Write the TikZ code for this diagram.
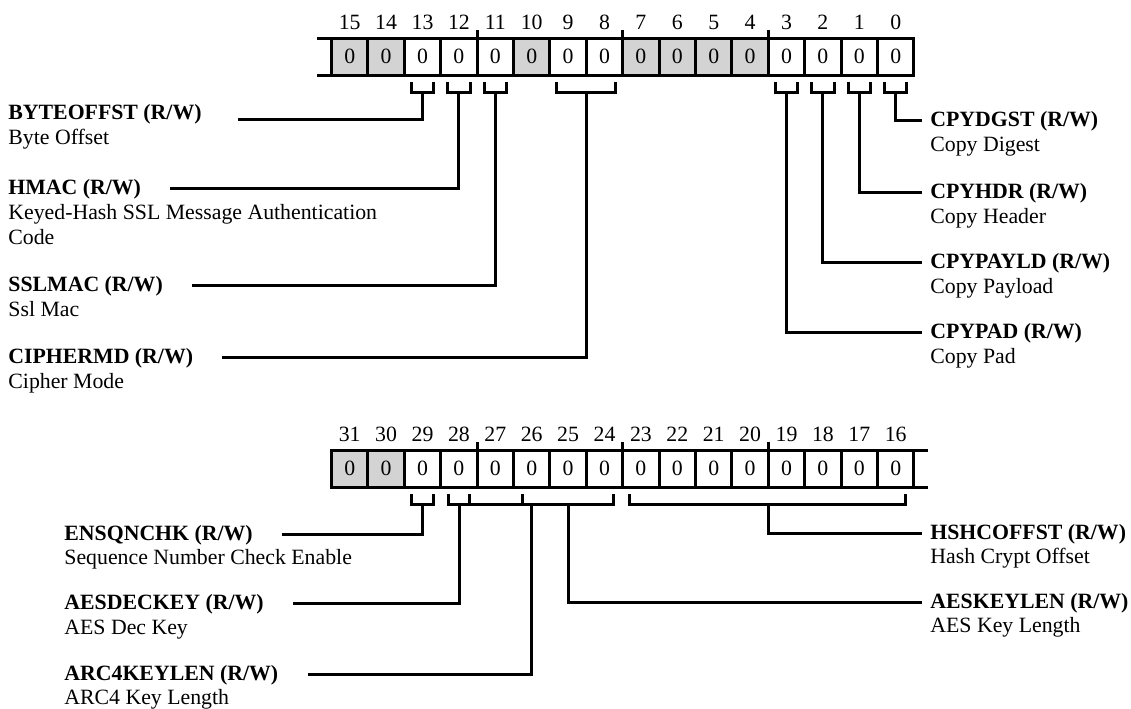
\documentclass[tikz,border=0pt]{standalone}
\usepackage{fontspec}
\setmainfont{Liberation Serif}
\definecolor{regoff}{RGB}{211,211,211}

\tikzset{
  cell/.style={draw, line width=1.5pt, minimum width=18.2pt, minimum height=18.5pt, inner sep=0pt, outer sep=0pt},
  bitnum/.style={inner sep=0pt},
  regline/.style={line width=1.5pt},
  brk/.style={line width=1.5pt},
  fname/.style={font=\bfseries, inner sep=0pt, anchor=base west},
  fdesc/.style={inner sep=0pt, anchor=base west, align=left},
  lconn/.style={line width=1.5pt, shorten >=14.5pt},
  rconn/.style={line width=1.5pt, shorten >=4pt},
}

\begin{document}
\fontsize{10.9}{12.5}\selectfont
\begin{tikzpicture}[x=0.5pt,y=-0.5pt]
    \useasboundingbox (0,0) rectangle (1131,708);

    % Register bits 15..0
    \foreach \b/\f in {15/regoff,14/regoff,13/white,12/white,11/white,10/regoff,9/white,8/white,
                       7/regoff,6/regoff,5/regoff,4/regoff,3/white,2/white,1/white,0/white}
        \node[cell, fill=\f] (c\b) at ({331.5+(15.5-\b)*36.4},56.5) {0};
    \foreach \b in {15,...,0}
        \node[bitnum] (n\b) at ([yshift=8pt]c\b.north) {\b};
    \draw[regline] (c15.north west) -- ++(-15,0);
    \draw[regline] (c15.south west) -- ++(-15,0);
    \draw[regline] (c12.north east) -- ++(0,-8);
    \draw[regline] (c8.north east) -- ++(0,-8);
    \draw[regline] (c4.north east) -- ++(0,-8);

    % Register bits 31..16
    \foreach \b/\f in {31/regoff,30/regoff,29/white,28/white,27/white,26/white,25/white,24/white,
                       23/white,22/white,21/white,20/white,19/white,18/white,17/white,16/white}
        \node[cell, fill=\f] (c\b) at ({331.5+(31.5-\b)*36.4},468.5) {0};
    \foreach \b in {31,...,16}
        \node[bitnum] (n\b) at ([yshift=8pt]c\b.north) {\b};
    \draw[regline] (c16.north east) -- ++(14,0);
    \draw[regline] (c16.south east) -- ++(14,0);
    \draw[regline] (c28.north east) -- ++(0,-8);
    \draw[regline] (c24.north east) -- ++(0,-8);
    \draw[regline] (c20.north east) -- ++(0,-8);

    % Brackets under the fields
    \foreach \b in {13,12,11,3,2,1,0,29}
        \draw[brk] ([xshift=3.5pt,yshift=-3.5pt]c\b.south west) |- ([yshift=-8.5pt]c\b.south) coordinate (br\b)
            -| ([xshift=-3.5pt,yshift=-3.5pt]c\b.south east);
    \draw[brk] ([xshift=3.5pt,yshift=-3.5pt]c9.south west) |- ([yshift=-8.5pt]c9.south east) coordinate (br98)
        -| ([xshift=-3.5pt,yshift=-3.5pt]c8.south east);
    \draw[brk] ([xshift=3.5pt,yshift=-3.5pt]c23.south west) |- ([yshift=-8.5pt]c20.south east) coordinate (brhsh)
        -| ([xshift=-4pt,yshift=-3.5pt]c16.south east);
    \draw[brk] (448,494) |- (613,504) -- (613,494);
    \draw[brk] (469,494) -- (469,504) (522,494) -- (522,504);
    \coordinate (brdec) at (459,504);
    \coordinate (brarc) at (531.7,504);
    \coordinate (braes) at (568,504);

    % Fields, left
    \node[fname] (byteoffst) at (8,119) {BYTEOFFST (R/W)};
    \node[fdesc] (byteoffstd) at (8,144) {Byte Offset};
    \node[fname] (hmac) at (8,194) {HMAC (R/W)};
    \node[fdesc] (hmacd) at (8,244) {Keyed-Hash SSL Message Authentication\\Code};
    \node[fname] (sslmac) at (8,291) {SSLMAC (R/W)};
    \node[fdesc] (sslmacd) at (8,316) {Ssl Mac};
    \node[fname] (ciphermd) at (8,363) {CIPHERMD (R/W)};
    \node[fdesc] (ciphermdd) at (8,388) {Cipher Mode};

    % Fields, right
    \node[fname] (cpydgst) at (930,126) {CPYDGST (R/W)};
    \node[fdesc] (cpydgstd) at (930,151) {Copy Digest};
    \node[fname] (cpyhdr) at (930,198) {CPYHDR (R/W)};
    \node[fdesc] (cpyhdrd) at (930,223) {Copy Header};
    \node[fname] (cpypayld) at (930,268) {CPYPAYLD (R/W)};
    \node[fdesc] (cpypayldd) at (930,293) {Copy Payload};
    \node[fname] (cpypad) at (930,338) {CPYPAD (R/W)};
    \node[fdesc] (cpypadd) at (930,363) {Copy Pad};

    % Fields, lower register
    \node[fname] (ensqnchk) at (64,540) {ENSQNCHK (R/W)};
    \node[fdesc] (ensqnchkd) at (64,564) {Sequence Number Check Enable};
    \node[fname] (aesdeckey) at (64,609) {AESDECKEY (R/W)};
    \node[fdesc] (aesdeckeyd) at (64,634) {AES Dec Key};
    \node[fname] (arc4keylen) at (64,680) {ARC4KEYLEN (R/W)};
    \node[fdesc] (arc4keylend) at (64,704) {ARC4 Key Length};
    \node[fname] (hshcoffst) at (930,539) {HSHCOFFST (R/W)};
    \node[fdesc] (hshcoffstd) at (930,563) {Hash Crypt Offset};
    \node[fname] (aeskeylen) at (930,608) {AESKEYLEN (R/W)};
    \node[fdesc] (aeskeylend) at (930,632) {AES Key Length};

    % Connectors
    \draw[lconn, shorten >=18pt] (br13) |- (byteoffst.base east);
    \draw[lconn] (br12) |- (hmac.east);
    \draw[lconn] (br11) |- (sslmac.east);
    \draw[lconn] (br98) |- (ciphermd.east);
    \draw[rconn] (br0) |- (cpydgst.west);
    \draw[rconn] (br1) |- (cpyhdr.west);
    \draw[rconn] (br2) |- (cpypayld.west);
    \draw[rconn] (br3) |- (cpypad.west);
    \draw[lconn] (br29) |- (ensqnchk.east);
    \draw[lconn] (brdec) |- (aesdeckey.east);
    \draw[lconn] (brarc) |- (arc4keylen.east);
    \draw[rconn] (braes) |- (aeskeylen.west);
    \draw[rconn] (brhsh) |- (hshcoffst.west);
\end{tikzpicture}
\end{document}
